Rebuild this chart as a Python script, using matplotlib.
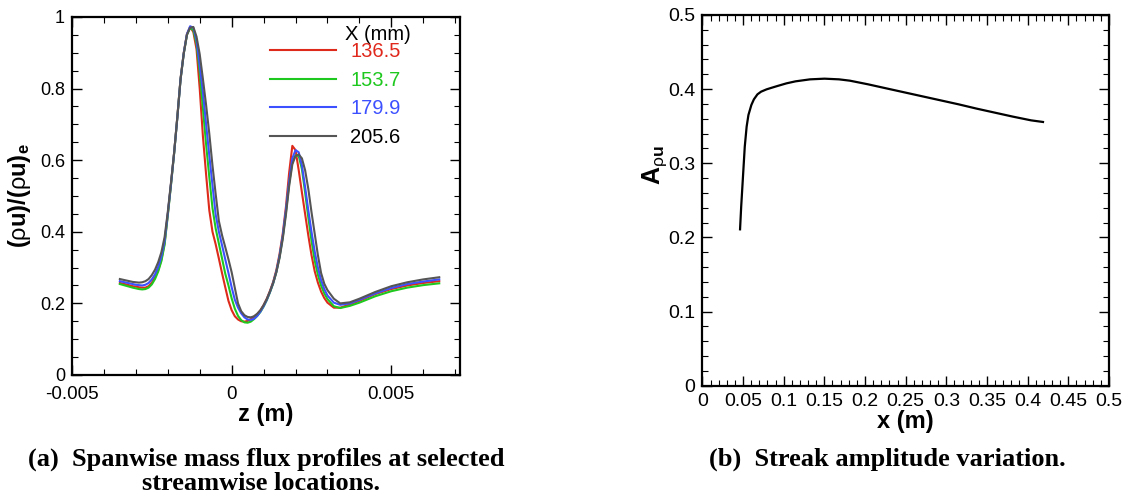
import numpy as np
import matplotlib
matplotlib.use("Agg")
import matplotlib.pyplot as plt
from matplotlib.ticker import MultipleLocator, FuncFormatter

plt.rcParams['font.family'] = ['Liberation Sans', 'DejaVu Sans']
plt.rcParams['mathtext.fontset'] = 'custom'
plt.rcParams['mathtext.rm'] = 'Liberation Sans'
plt.rcParams['mathtext.bf'] = 'Liberation Sans:bold'
plt.rcParams['mathtext.it'] = 'Liberation Sans:italic'

# ---- (a) spanwise mass flux profiles ----
z = [-0.0035, -0.0033, -0.0031,
     -0.0030, -0.0029, -0.0028, -0.0027, -0.0026, -0.0025, -0.0024, -0.0023, -0.0022, -0.0021,
     -0.0020, -0.0019, -0.0018, -0.0017, -0.0016, -0.0015, -0.0014, -0.0013, -0.0012, -0.0011,
     -0.0010, -0.0009, -0.0008, -0.0007, -0.0006, -0.0005, -0.0004, -0.0003, -0.0002, -0.0001,
     0.0000, 0.0001, 0.0002, 0.0003, 0.0004, 0.0005, 0.0006, 0.0007, 0.0008, 0.0009,
     0.0010, 0.0011, 0.0012, 0.0013, 0.0014, 0.0015, 0.0016, 0.0017, 0.0018, 0.0019,
     0.0020, 0.0021, 0.0022, 0.0023, 0.0024, 0.0025, 0.0026, 0.0027, 0.0028, 0.0029,
     0.0030, 0.0032, 0.0034, 0.0037, 0.0040, 0.0045, 0.0050, 0.0055, 0.0060, 0.0065]

flux_1365 = [0.257, 0.253, 0.248,
             0.247, 0.245, 0.244, 0.244, 0.248, 0.258, 0.273, 0.293, 0.322, 0.368,
             0.448, 0.533, 0.622, 0.722, 0.828, 0.900, 0.952, 0.972, 0.958, 0.910,
             0.800, 0.667, 0.560, 0.460, 0.400, 0.365, 0.325, 0.284, 0.245, 0.207,
             0.181, 0.164, 0.155, 0.150, 0.149, 0.151, 0.156, 0.163, 0.170, 0.180,
             0.195, 0.213, 0.235, 0.260, 0.293, 0.338, 0.395, 0.470, 0.565, 0.640,
             0.628, 0.572, 0.510, 0.450, 0.390, 0.335, 0.290, 0.258, 0.233, 0.215,
             0.202, 0.188, 0.188, 0.197, 0.207, 0.226, 0.240, 0.250, 0.257, 0.262]

flux_1537 = [0.254, 0.249, 0.244,
             0.242, 0.240, 0.239, 0.240, 0.244, 0.253, 0.268, 0.289, 0.318, 0.364,
             0.445, 0.530, 0.620, 0.720, 0.826, 0.898, 0.950, 0.970, 0.963, 0.925,
             0.846, 0.745, 0.644, 0.553, 0.466, 0.409, 0.367, 0.325, 0.283, 0.250,
             0.214, 0.185, 0.165, 0.153, 0.147, 0.146, 0.149, 0.156, 0.165, 0.176,
             0.191, 0.209, 0.231, 0.256, 0.288, 0.330, 0.385, 0.455, 0.535, 0.595,
             0.613, 0.612, 0.575, 0.510, 0.440, 0.375, 0.320, 0.280, 0.250, 0.228,
             0.212, 0.192, 0.187, 0.193, 0.202, 0.220, 0.234, 0.244, 0.251, 0.256]

flux_1799 = [0.262, 0.258, 0.254,
             0.252, 0.251, 0.250, 0.252, 0.257, 0.267, 0.281, 0.302, 0.331, 0.374,
             0.450, 0.533, 0.621, 0.720, 0.826, 0.899, 0.952, 0.974, 0.970, 0.935,
             0.865, 0.790, 0.700, 0.613, 0.530, 0.448, 0.400, 0.362, 0.323, 0.285,
             0.245, 0.210, 0.188, 0.172, 0.161, 0.155, 0.154, 0.157, 0.165, 0.177,
             0.192, 0.210, 0.232, 0.257, 0.289, 0.332, 0.388, 0.460, 0.540, 0.605,
             0.628, 0.622, 0.585, 0.525, 0.460, 0.400, 0.345, 0.300, 0.265, 0.240,
             0.222, 0.202, 0.196, 0.200, 0.210, 0.228, 0.243, 0.254, 0.261, 0.267]

flux_2056 = [0.268, 0.264, 0.260,
             0.259, 0.258, 0.259, 0.262, 0.268, 0.279, 0.294, 0.315, 0.343, 0.385,
             0.455, 0.537, 0.622, 0.720, 0.825, 0.897, 0.950, 0.970, 0.972, 0.945,
             0.896, 0.827, 0.754, 0.674, 0.585, 0.505, 0.430, 0.390, 0.357, 0.323,
             0.287, 0.243, 0.200, 0.178, 0.167, 0.162, 0.161, 0.164, 0.171, 0.181,
             0.195, 0.212, 0.233, 0.257, 0.287, 0.327, 0.380, 0.448, 0.527, 0.588,
             0.612, 0.616, 0.605, 0.572, 0.520, 0.455, 0.395, 0.335, 0.285, 0.255,
             0.237, 0.213, 0.200, 0.203, 0.213, 0.232, 0.248, 0.259, 0.267, 0.273]

labels = ['136.5', '153.7', '179.9', '205.6']
line_colors = ['#dd2a1a', '#1ec81e', '#3c50ff', '#555555']
text_colors = ['#e0281c', '#1ec81e', '#3c50ff', '#000000']

# ---- (b) streak amplitude ----
amp_x = [0.0463, 0.0477, 0.0499, 0.0521, 0.0544, 0.0566, 0.0602, 0.0633, 0.0677, 0.0722,
         0.0789, 0.0856, 0.0922, 0.1034, 0.1145, 0.1324, 0.1502, 0.1680, 0.1814, 0.2037,
         0.2259, 0.2482, 0.2705, 0.2928, 0.3151, 0.3373, 0.3596, 0.3819, 0.4042, 0.4189]
amp_y = [0.2109, 0.2415, 0.2820, 0.3224, 0.3494, 0.3651, 0.3786, 0.3862, 0.3930, 0.3966,
         0.3997, 0.4020, 0.4042, 0.4078, 0.4105, 0.4132, 0.4141, 0.4132, 0.4114, 0.4065,
         0.4011, 0.3957, 0.3903, 0.3849, 0.3795, 0.3737, 0.3683, 0.3629, 0.3579, 0.3557]

fig = plt.figure(figsize=(11.28, 4.98), dpi=100)
ax1 = fig.add_axes([0.0638, 0.247, 0.344, 0.719])
ax2 = fig.add_axes([0.6227, 0.2255, 0.3604, 0.7444])

fmt = FuncFormatter(lambda v, p: '%g' % round(v, 6))

for ax in (ax1, ax2):
    ax.tick_params(which='both', direction='in', top=True, right=True, pad=5)
    ax.tick_params(which='major', length=7, width=1)
    ax.tick_params(which='minor', length=4.5, width=0.8)
    for s in ax.spines.values():
        s.set_linewidth(1.6)
    ax.xaxis.set_major_formatter(fmt)
    ax.yaxis.set_major_formatter(fmt)
ax1.tick_params(axis='x', labelsize=13.5, pad=8)
ax1.tick_params(axis='y', labelsize=13)
ax2.tick_params(axis='both', labelsize=14)

series = [flux_1365, flux_1537, flux_1799, flux_2056]
handles = []
for vals, c, lab in zip(series, line_colors, labels):
    h, = ax1.plot(z, vals, color=c, lw=1.5, label=lab)
    handles.append(h)

ax1.set_xlim(-0.005, 0.00715)
ax1.set_ylim(0, 1)
ax1.xaxis.set_major_locator(MultipleLocator(0.005))
ax1.xaxis.set_minor_locator(MultipleLocator(0.001))
ax1.yaxis.set_major_locator(MultipleLocator(0.2))
ax1.yaxis.set_minor_locator(MultipleLocator(0.05))
ax1.set_xlabel('z (m)', fontsize=17, fontweight='bold', labelpad=0)
ax1.set_ylabel(r'$\mathbf{(}\mathrm{\rho}\mathbf{u)/(}\mathrm{\rho}\mathbf{u)}_{\mathbf{e}}$', fontsize=17)
ax1.yaxis.set_label_coords(-0.1, 0.5)

leg = ax1.legend(handles=handles, loc='upper left', bbox_to_anchor=(0.51, 0.929),
                 frameon=False, fontsize=14.5, handlelength=3.28, handletextpad=0.7,
                 labelspacing=0.47, borderpad=0, borderaxespad=0)
for t, c in zip(leg.get_texts(), text_colors):
    t.set_color(c)
ax1.text(0.704, 0.978, 'X (mm)', transform=ax1.transAxes, fontsize=14.5, va='top', ha='left')

ax2.plot(amp_x, amp_y, color='black', lw=1.6)
ax2.set_xlim(0, 0.5)
ax2.set_ylim(0, 0.5)
ax2.xaxis.set_major_locator(MultipleLocator(0.05))
ax2.xaxis.set_minor_locator(MultipleLocator(0.01))
ax2.yaxis.set_major_locator(MultipleLocator(0.1))
ax2.yaxis.set_minor_locator(MultipleLocator(0.02))
ax2.set_xlabel('x (m)', fontsize=17, fontweight='bold', labelpad=0)
ax2.set_ylabel(r'$\mathbf{A}_{\mathrm{\rho}\mathbf{u}}$', fontsize=18)
ax2.yaxis.set_label_coords(-0.081, 0.595)

cap = dict(family=['Liberation Serif', 'DejaVu Serif'], fontweight='bold', fontsize=19,
           ha='center', va='baseline')
fig.text(0.2358, 1 - 466 / 498, '(a)  Spanwise mass flux profiles at selected', **cap)
fig.text(0.2314, 1 - 490 / 498, 'streamwise locations.', **cap)
fig.text(0.7863, 1 - 466 / 498, '(b)  Streak amplitude variation.', **cap)

fig.savefig('out.png', dpi=100)
